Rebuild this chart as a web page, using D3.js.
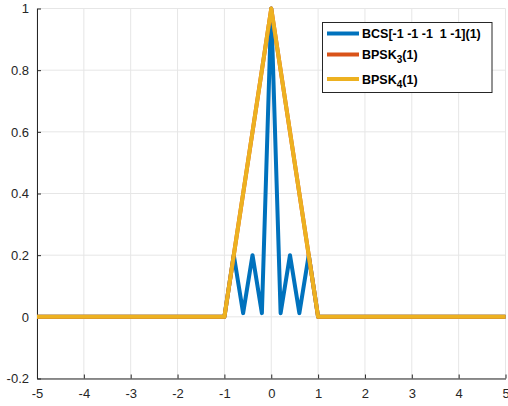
<!DOCTYPE html>
<html><head><meta charset="utf-8">
<script src="https://cdn.jsdelivr.net/npm/d3@7"></script>
<style>body{margin:0;background:#fff}svg{display:block;font-family:"Liberation Sans",Arial,sans-serif}</style>
</head><body>
<svg id="c" width="508" height="406"></svg>
<script>
// data
const bcsX = [-5, -1, -0.8, -0.6, -0.4, -0.2, 0, 0.2, 0.4, 0.6, 0.8, 1, 5];
const bcsY = [0, 0, 0.2, 0.012, 0.2, 0.012, 1, 0.012, 0.2, 0.012, 0.2, 0, 0];
const bpsk3X = [-5, -1, 0, 1, 5];
const bpsk3Y = [0, 0, 1, 0, 0];
const bpsk4X = [-5, -1, 0, 1, 5];
const bpsk4Y = [0, 0, 1, 0, 0];
const xTicks = [-5, -4, -3, -2, -1, 0, 1, 2, 3, 4, 5];
const yTicks = [-0.2, 0, 0.2, 0.4, 0.6, 0.8, 1];
const xTickLabels = ["-5", "-4", "-3", "-2", "-1", "0", "1", "2", "3", "4", "5"];
const yTickLabels = ["-0.2", "0", "0.2", "0.4", "0.6", "0.8", "1"];

const svg = d3.select("#c");
const L = 37, R = 505.5, T = 8.5, B = 378.5;
const x = d3.scaleLinear().domain([-5, 5]).range([L, R]);
const y = d3.scaleLinear().domain([-0.2, 1]).range([B, T]);

// grid
const g = svg.append("g");
g.selectAll(".gx").data(xTicks).enter().append("line")
  .attr("x1", d => x(d)).attr("x2", d => x(d)).attr("y1", T).attr("y2", B)
  .attr("stroke", "#e6e6e6").attr("stroke-width", 1);
g.selectAll(".gy").data(yTicks).enter().append("line")
  .attr("x1", L).attr("x2", R).attr("y1", d => y(d)).attr("y2", d => y(d))
  .attr("stroke", "#e6e6e6").attr("stroke-width", 1);

// axes
const xAxis = d3.axisBottom(x).tickValues(xTicks).tickSizeInner(-4).tickSizeOuter(0).tickPadding(10)
  .tickFormat((d, i) => xTickLabels[i]);
const yAxis = d3.axisLeft(y).tickValues(yTicks).tickSizeInner(-4).tickSizeOuter(0).tickPadding(8)
  .tickFormat((d, i) => yTickLabels[i]);
const ax = svg.append("g").attr("transform", `translate(0,${B})`).call(xAxis);
const ay = svg.append("g").attr("transform", `translate(${L},0)`).call(yAxis);
[ax, ay].forEach(a => {
  a.select(".domain").attr("stroke", "#262626").attr("stroke-width", 1);
  a.selectAll(".tick line").attr("stroke", "#262626");
  a.selectAll("text").attr("fill", "#262626").attr("font-size", 13);
});

// lines
const line = d3.line().x(d => x(d[0])).y(d => y(d[1]));
const series = [
  {xs: bcsX, ys: bcsY, color: "#0072BD"},
  {xs: bpsk3X, ys: bpsk3Y, color: "#D95319"},
  {xs: bpsk4X, ys: bpsk4Y, color: "#EDB120"}
];
series.forEach(s => {
  svg.append("path").datum(s.xs.map((v, i) => [v, s.ys[i]]))
    .attr("d", line).attr("fill", "none").attr("stroke", s.color)
    .attr("stroke-width", 4).attr("stroke-linejoin", "round");
});

// legend
const lg = svg.append("g");
lg.append("rect").attr("x", 322.5).attr("y", 22.5).attr("width", 169.5).attr("height", 70)
  .attr("fill", "#fff").attr("stroke", "#262626").attr("stroke-width", 1);
const rows = [
  {y: 33.5, color: "#0072BD", label: "BCS[-1 -1 -1  1 -1](1)"},
  {y: 54.5, color: "#D95319", label: ["BPSK", "3", "(1)"]},
  {y: 79, color: "#EDB120", label: ["BPSK", "4", "(1)"]}
];
rows.forEach(r => {
  lg.append("line").attr("x1", 327).attr("x2", 359).attr("y1", r.y).attr("y2", r.y)
    .attr("stroke", r.color).attr("stroke-width", 4);
  const t = lg.append("text").attr("x", 362).attr("y", r.y + 4.5).attr("font-size", 12.5)
    .attr("font-weight", "bold").attr("fill", "#000").style("white-space", "pre");
  if (typeof r.label === "string") t.text(r.label);
  else {
    t.append("tspan").text(r.label[0]);
    t.append("tspan").attr("dy", 4).attr("font-size", 10).text(r.label[1]);
    t.append("tspan").attr("dy", -4).text(r.label[2]);
  }
});
</script>
</body></html>
